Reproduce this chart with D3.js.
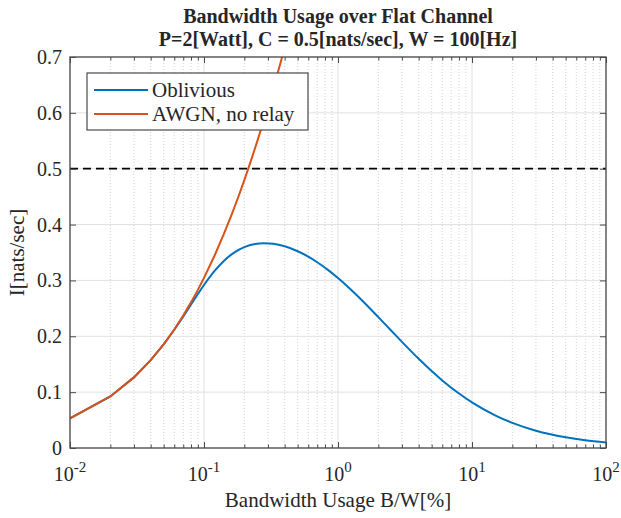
<!DOCTYPE html>
<html>
<head>
<meta charset="utf-8">
<script src="https://cdn.jsdelivr.net/npm/d3@7"></script>
<style>
  html, body { margin: 0; padding: 0; background: #fff; }
  text { font-family: "Liberation Serif", "Times New Roman", serif; fill: #262626; }
</style>
</head>
<body>
<svg id="chart" width="621" height="518"></svg>
<script>
// ---- data ----
const titleLines = ["Bandwidth Usage over Flat Channel", "P=2[Watt], C = 0.5[nats/sec], W = 100[Hz]"];
const xLabel = "Bandwidth Usage B/W[%]";
const yLabel = "I[nats/sec]";
const seriesNames = ["Oblivious", "AWGN, no relay"];
const xTickExponents = [-2, -1, 0, 1, 2];
const yTicks = [0, 0.1, 0.2, 0.3, 0.4, 0.5, 0.6, 0.7];
const thresholdC = 0.5;

const obliviousB = [0.01,0.02,0.03,0.04,0.05,0.06,0.07,0.08,0.09,0.10,0.12,0.14,0.17,0.20,0.24,0.28,0.33,0.40,0.50,0.60,0.70,0.85,1.0,1.2,1.5,2.0,2.5,3.0,4.0,5.0,6.0,8.0,10,15,20,30,50,70,100];
const obliviousI = [0.0530,0.0923,0.1264,0.1573,0.1856,0.2117,0.2355,0.2569,0.2756,0.2918,0.3170,0.3345,0.3508,0.3597,0.3652,0.3667,0.3656,0.3611,0.3523,0.3425,0.3325,0.3180,0.3042,0.2874,0.2651,0.2344,0.2100,0.1901,0.1598,0.1378,0.1210,0.0975,0.0816,0.0580,0.0450,0.0310,0.0192,0.0138,0.0098];

const awgnB = [0.01,0.02,0.03,0.04,0.05,0.06,0.07,0.08,0.09,0.10,0.12,0.14,0.16,0.18,0.20,0.22,0.25,0.28,0.31,0.34,0.37,0.40];
const awgnI = [0.0530,0.0923,0.1264,0.1573,0.1857,0.2122,0.2371,0.2607,0.2831,0.3045,0.3446,0.3818,0.4164,0.4489,0.4796,0.5086,0.5493,0.5872,0.6226,0.6558,0.6871,0.7167];

// ---- layout ----
const W = 621, H = 518;
const m = {left: 70, right: 15, top: 57, bottom: 70};
const pw = W - m.left - m.right, ph = H - m.top - m.bottom;
const axisColor = "#4a4a4a";
const blue = "#0072BD", orange = "#D95319";

const svg = d3.select("#chart");
const x = d3.scaleLog().domain([1e-2, 1e2]).range([m.left, m.left + pw]);
const y = d3.scaleLinear().domain([0, 0.7]).range([m.top + ph, m.top]);

svg.append("rect").attr("x", m.left).attr("y", m.top).attr("width", pw).attr("height", ph).attr("fill", "#fff");

// minor x values
const minorX = [];
for (let e = -2; e < 2; e++) for (let k = 2; k <= 9; k++) minorX.push(k * Math.pow(10, e));
const majorX = xTickExponents.map(e => Math.pow(10, e));

// grid
const grid = svg.append("g");
grid.selectAll(".mx").data(minorX).join("line")
  .attr("x1", d => x(d)).attr("x2", d => x(d)).attr("y1", m.top).attr("y2", m.top + ph)
  .attr("stroke", "#d2d2d2").attr("stroke-width", 1).attr("stroke-dasharray", "1,2");
grid.selectAll(".Mx").data(majorX).join("line")
  .attr("x1", d => x(d)).attr("x2", d => x(d)).attr("y1", m.top).attr("y2", m.top + ph)
  .attr("stroke", "#e1e1e1").attr("stroke-width", 1);
grid.selectAll(".My").data(yTicks).join("line")
  .attr("x1", m.left).attr("x2", m.left + pw).attr("y1", d => y(d)).attr("y2", d => y(d))
  .attr("stroke", "#e1e1e1").attr("stroke-width", 1);

// clip
svg.append("clipPath").attr("id", "clip").append("rect")
  .attr("x", m.left).attr("y", m.top).attr("width", pw).attr("height", ph);

// threshold line
svg.append("line").attr("clip-path", "url(#clip)")
  .attr("x1", m.left).attr("x2", m.left + pw).attr("y1", y(thresholdC)).attr("y2", y(thresholdC))
  .attr("stroke", "#000").attr("stroke-width", 1.8).attr("stroke-dasharray", "8,5");

// curves
const obl = obliviousB.map((b, i) => [b, obliviousI[i]]);
const awgn = awgnB.map((b, i) => [b, awgnI[i]]);
const lineSmooth = d3.line().x(d => x(d[0])).y(d => y(d[1])).curve(d3.curveMonotoneX);
const lineLin = d3.line().x(d => x(d[0])).y(d => y(d[1]));
// low-bandwidth part of the oblivious curve is sampled linearly like the AWGN curve
svg.append("path").attr("clip-path", "url(#clip)").attr("d", lineLin(obl.slice(0, 5)))
  .attr("fill", "none").attr("stroke", blue).attr("stroke-width", 2);
svg.append("path").attr("clip-path", "url(#clip)").attr("d", lineSmooth(obl.slice(4)))
  .attr("fill", "none").attr("stroke", blue).attr("stroke-width", 2);
svg.append("path").attr("clip-path", "url(#clip)").attr("d", lineLin(awgn))
  .attr("fill", "none").attr("stroke", orange).attr("stroke-width", 2);

// axes with inward ticks (box)
const ax = svg.append("g");
const bottomAxis = d3.axisBottom(x).tickValues(majorX).tickSize(-6).tickFormat("");
const topAxis = d3.axisTop(x).tickValues(majorX).tickSize(-6).tickFormat("");
const leftAxis = d3.axisLeft(y).tickValues(yTicks).tickSize(-6).tickFormat("");
const rightAxis = d3.axisRight(y).tickValues(yTicks).tickSize(-6).tickFormat("");
const bMinor = d3.axisBottom(x).tickValues(minorX).tickSize(-3.5).tickFormat("");
const tMinor = d3.axisTop(x).tickValues(minorX).tickSize(-3.5).tickFormat("");
function styleAxis(g) {
  g.select(".domain").remove();
  g.selectAll("line").attr("stroke", axisColor).attr("stroke-width", 1);
}
ax.append("g").attr("transform", `translate(0,${m.top + ph})`).call(bottomAxis).call(styleAxis);
ax.append("g").attr("transform", `translate(0,${m.top + ph})`).call(bMinor).call(styleAxis);
ax.append("g").attr("transform", `translate(0,${m.top})`).call(topAxis).call(styleAxis);
ax.append("g").attr("transform", `translate(0,${m.top})`).call(tMinor).call(styleAxis);
ax.append("g").attr("transform", `translate(${m.left},0)`).call(leftAxis).call(styleAxis);
ax.append("g").attr("transform", `translate(${m.left + pw},0)`).call(rightAxis).call(styleAxis);
svg.append("rect").attr("x", m.left).attr("y", m.top).attr("width", pw).attr("height", ph)
  .attr("fill", "none").attr("stroke", axisColor).attr("stroke-width", 1.3);

// tick labels
svg.append("g").selectAll("text").data(yTicks).join("text")
  .attr("x", m.left - 8).attr("y", d => y(d)).attr("dy", "0.35em")
  .attr("text-anchor", "end").attr("font-size", 20)
  .text(d => d === 0 ? "0" : d3.format(".1f")(d));

const xl = svg.append("g").selectAll("text").data(xTickExponents).join("text")
  .attr("x", d => x(Math.pow(10, d))).attr("y", m.top + ph + 33)
  .attr("text-anchor", "middle").attr("font-size", 20);
xl.append("tspan").text("10");
xl.append("tspan").attr("dy", -9).attr("font-size", 15).text(d => String(d));

// axis labels
svg.append("text").attr("x", m.left + pw / 2).attr("y", m.top + ph + 59)
  .attr("text-anchor", "middle").attr("font-size", 21).text(xLabel);
svg.append("text").attr("transform", `translate(24,${m.top + ph / 2}) rotate(-90)`)
  .attr("text-anchor", "middle").attr("font-size", 21).text(yLabel);

// title
svg.append("g").selectAll("text").data(titleLines).join("text")
  .attr("x", m.left + pw / 2).attr("y", (d, i) => 23 + i * 23)
  .attr("text-anchor", "middle").attr("font-size", 20).attr("font-weight", "bold")
  .attr("fill", "#000").text(d => d);

// legend
const lg = svg.append("g").attr("transform", "translate(87,73)");
lg.append("rect").attr("width", 221).attr("height", 57).attr("fill", "#fff")
  .attr("stroke", axisColor).attr("stroke-width", 1.2);
const legendColors = [blue, orange];
seriesNames.forEach((name, i) => {
  const yy = 17 + i * 24;
  lg.append("line").attr("x1", 7).attr("x2", 61).attr("y1", yy).attr("y2", yy)
    .attr("stroke", legendColors[i]).attr("stroke-width", 2);
  lg.append("text").attr("x", 65).attr("y", yy).attr("dy", "0.35em")
    .attr("font-size", 21).text(name);
});
</script>
</body>
</html>
